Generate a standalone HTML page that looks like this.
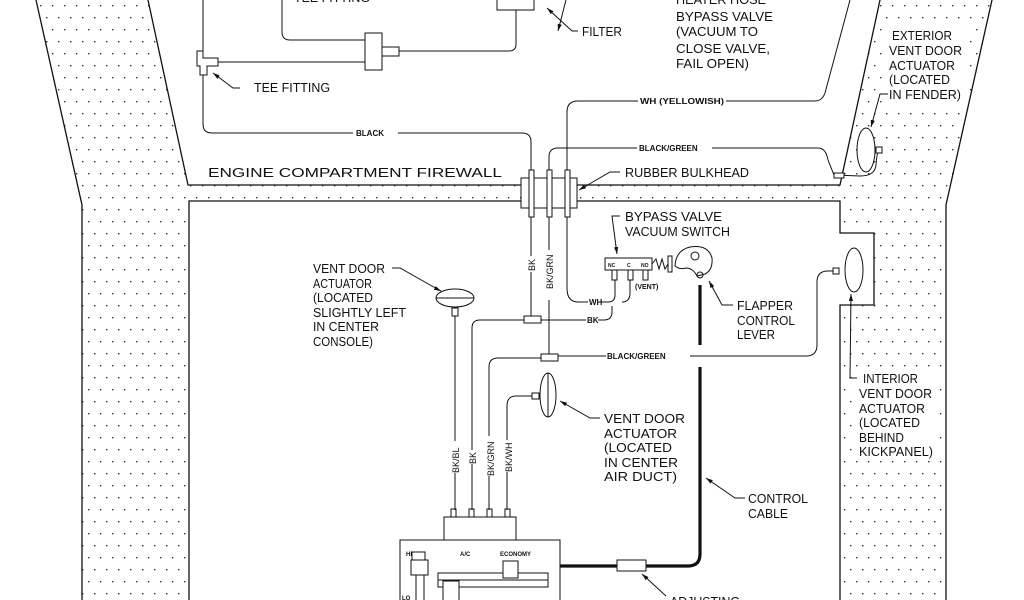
<!DOCTYPE html>
<html><head><meta charset="utf-8"><style>
html,body{margin:0;padding:0;background:#fff;width:1024px;height:600px;overflow:hidden}
svg{display:block}
text{font-family:"Liberation Sans",sans-serif;fill:#111}
.l{font-size:13px}
.s{font-size:8px;font-weight:bold}
</style></head><body>
<svg width="1024" height="600" viewBox="0 0 1024 600" xmlns="http://www.w3.org/2000/svg">
<defs>
<pattern id="dots" width="24" height="24" patternUnits="userSpaceOnUse">
<rect x="4" y="5" width="1.4" height="1.4" fill="#333"/><rect x="16" y="5" width="1.4" height="1.4" fill="#333"/>
<rect x="10" y="17" width="1.4" height="1.4" fill="#333"/><rect x="22" y="17" width="1.4" height="1.4" fill="#333"/>
</pattern>
<marker id="ar" viewBox="0 0 10 10" refX="10" refY="5" markerWidth="7" markerHeight="7" orient="auto"><path d="M0,2 L10,5 L0,8 z" fill="#111"/></marker>
</defs>
<rect width="1024" height="600" fill="#fff"/>
<path d="M36,0 L82,205 L82,600 L189,600 L189,201 L840,201 L840,233 L874,233 L874,305 L840,305 L840,600 L946,600 L946,205 L992,0 L880,0 L840,185 L188,185 L148,0 Z" fill="url(#dots)"/>
<rect x="884" y="26" width="82" height="78" fill="#fff"/>
<rect x="855" y="368" width="82" height="92" fill="#fff"/>
<g fill="none" stroke="#111" stroke-width="1.3">
<path d="M36,0 L82,205 L82,600"/>
<path d="M148,0 L188,185 L521,185 M577,185 L840,185 L880,0"/>
<path d="M189,600 L189,201 L521,201 M577,201 L840,201 L840,233 L874,233 L874,305 L840,305 L840,600"/>
<path d="M992,0 L946,205 L946,600"/>
</g>
<g fill="none" stroke="#111" stroke-width="1">
<path d="M203,0 L203,52 M203,75 L203,124 Q203,133 212,133 L353,133 M398,133 L522,133 Q531,133 531,142 L531,178"/>
<path d="M218,62 L365,62"/>
<path d="M282,0 L282,32 Q282,40 290,40 L365,40"/>
<path d="M399,51 L509,51 Q516,51 516,44 L516,10"/>
<rect x="365" y="33" width="17" height="37" fill="#fff"/>
<rect x="382" y="47" width="17" height="9" fill="#fff"/>
<path d="M197,51 L203,51 L203,58 L218,58 L218,66 L207,66 L207,75 L200,75 L200,66 L197,66 Z" fill="#fff"/>
<rect x="497" y="-2" width="37" height="12" fill="#fff"/>
<path d="M240,88 L233,88 L213,73" marker-end="url(#ar)"/>
<path d="M566,0 L558,31" marker-end="url(#ar)"/>
<path d="M578,31 L572,31 L547,8" marker-end="url(#ar)"/>
<path d="M567,170 L567,112 Q567,101 578,101 L638,101 M726,101 L815,101 Q822,101 825,93 L850,0"/>
<path d="M549,170 L549,157 Q549,148 558,148 L637,148 M712,148 L818,148 Q826,148 828,160 L834,175 L860,176 Q875,176 876,165 Q877,150 880,150"/>
<ellipse cx="866" cy="150" rx="9" ry="22" fill="#fff"/>
<rect x="876" y="147" width="6" height="6" fill="#fff"/>
<rect x="834" y="173" width="10" height="5" fill="#fff"/>
<path d="M888,94 L880,94 L871,127" marker-end="url(#ar)"/>
<rect x="521" y="178" width="56" height="30" fill="#fff"/>
<rect x="529" y="170" width="5" height="47" fill="#fff"/>
<rect x="547" y="170" width="5" height="47" fill="#fff"/>
<rect x="565" y="170" width="5" height="47" fill="#fff"/>
<path d="M620,172 L610,172 L579,190" marker-end="url(#ar)"/>
<path d="M531,217 L531,316 M549,217 L549,250 M549,262 L549,287 M549,300 L549,352 M567,217 L567,288 Q567,302 578,302 L588,302 M598,302 L608,302 Q615,302 615,295 L615,280 M630,280 L630,293 Q630,302 622,302"/>
<path d="M541,320 L586,320 M598,320 L604,320 Q612,320 612,312 L612,306"/>
<rect x="524" y="316" width="17" height="7" fill="#fff"/>
<path d="M524,320 L480,320 Q472,320 472,328 L472,510"/>
<rect x="541" y="354" width="17" height="7" fill="#fff"/>
<path d="M549,344 L549,354"/>
<path d="M558,356 L606,356 M690,356 L806,356 Q817,356 817,345 L817,282 Q817,271 828,271 L833,271"/>
<path d="M541,358 L498,358 Q489,358 489,367 L489,510"/>
<rect x="833" y="268" width="6" height="6" fill="#fff"/>
<ellipse cx="854" cy="270" rx="9" ry="22" fill="#fff"/>
<path d="M857,378 L850,378 L851,294" marker-end="url(#ar)"/>
<rect x="605" y="258" width="47" height="12" fill="#fff"/>
<rect x="612" y="270" width="5" height="10"/><rect x="628" y="270" width="5" height="10"/><rect x="643" y="270" width="5" height="10"/>
<path d="M652,264 L656,259 L659,269 L662,259 L665,269 L668,264"/>
<rect x="668" y="256" width="4" height="16" fill="#fff"/>
<path d="M675,266 Q676,250 690,247 Q708,244 712,258 Q713,270 705,274 L697,276 Q693,268 686,268 Q680,270 675,266 Z"/>
<circle cx="695" cy="256" r="4"/>
<circle cx="700" cy="275" r="3"/>
<path d="M620,216 L612,216 L617,254" marker-end="url(#ar)"/>
<path d="M733,305 L722,305 L709,281" marker-end="url(#ar)"/>
<ellipse cx="455" cy="298" rx="19" ry="9" fill="#fff"/>
<path d="M436,298 L474,298"/>
<rect x="452" y="308" width="6" height="8"/>
<path d="M455,316 L455,510 M392,268 L400,268 L439,290"/>
<path d="M439,290 L441,291" marker-end="url(#ar)"/>
<path d="M507,510 L507,406 Q507,396 516,396 L532,396"/>
<rect x="532" y="393" width="7" height="6" fill="#fff"/>
<ellipse cx="548" cy="395" rx="8" ry="22" fill="#fff"/>
<path d="M548,373 L548,417"/>
<path d="M600,418 L590,418 L560,401" marker-end="url(#ar)"/>
<rect x="451" y="509" width="5" height="8"/><rect x="469" y="509" width="5" height="8"/><rect x="487" y="509" width="5" height="8"/><rect x="505" y="509" width="5" height="8"/>
<rect x="444" y="517" width="72" height="23" fill="#fff"/>
<rect x="400" y="540" width="160" height="70" fill="#fff"/>
<rect x="412" y="552" width="13" height="8"/>
<rect x="411" y="560" width="17" height="15" fill="#fff"/>
<path d="M416,575 L416,600 M424,575 L424,600"/>
<rect x="438" y="573" width="110" height="7" fill="#fff"/>
<rect x="438" y="580" width="110" height="7" fill="#fff"/>
<rect x="503" y="561" width="15" height="17" fill="#fff"/>
<rect x="443" y="581" width="16" height="20" fill="#fff"/>
<path d="M745,498 L735,498 L706,478" marker-end="url(#ar)"/>
<path d="M666,596 L642,574" marker-end="url(#ar)"/>
</g>
<g fill="none" stroke="#111" stroke-width="3.2">
<path d="M700,285 L700,345 M700,367 L700,554 Q700,566 688,566 L646,566 M617,566 L560,566"/>
</g>
<rect x="617" y="560" width="29" height="11" fill="#fff" stroke="#111" stroke-width="1"/>
<g class="l">
<text x="294" y="2" textLength="76" lengthAdjust="spacingAndGlyphs">TEE FITTING</text>
<text x="254" y="92" textLength="76" lengthAdjust="spacingAndGlyphs">TEE FITTING</text>
<text x="582" y="36" textLength="40" lengthAdjust="spacingAndGlyphs">FILTER</text>
<text x="676" y="4" textLength="90" lengthAdjust="spacingAndGlyphs">HEATER HOSE</text>
<text x="676" y="21" textLength="97" lengthAdjust="spacingAndGlyphs">BYPASS VALVE</text>
<text x="676" y="36" textLength="82" lengthAdjust="spacingAndGlyphs">(VACUUM TO</text>
<text x="676" y="53" textLength="94" lengthAdjust="spacingAndGlyphs">CLOSE VALVE,</text>
<text x="676" y="68" textLength="73" lengthAdjust="spacingAndGlyphs">FAIL OPEN)</text>
<text x="892" y="40" textLength="60" lengthAdjust="spacingAndGlyphs">EXTERIOR</text>
<text x="889" y="55" textLength="73" lengthAdjust="spacingAndGlyphs">VENT DOOR</text>
<text x="889" y="70" textLength="66" lengthAdjust="spacingAndGlyphs">ACTUATOR</text>
<text x="889" y="84" textLength="61" lengthAdjust="spacingAndGlyphs">(LOCATED</text>
<text x="889" y="99" textLength="72" lengthAdjust="spacingAndGlyphs">IN FENDER)</text>
<text x="208" y="177" textLength="294" lengthAdjust="spacingAndGlyphs">ENGINE COMPARTMENT FIREWALL</text>
<text x="625" y="177" textLength="124" lengthAdjust="spacingAndGlyphs">RUBBER BULKHEAD</text>
<text x="625" y="221" textLength="97" lengthAdjust="spacingAndGlyphs">BYPASS VALVE</text>
<text x="625" y="236" textLength="105" lengthAdjust="spacingAndGlyphs">VACUUM SWITCH</text>
<text x="313" y="273" textLength="72" lengthAdjust="spacingAndGlyphs">VENT DOOR</text>
<text x="313" y="288" textLength="59" lengthAdjust="spacingAndGlyphs">ACTUATOR</text>
<text x="313" y="302" textLength="60" lengthAdjust="spacingAndGlyphs">(LOCATED</text>
<text x="313" y="317" textLength="93" lengthAdjust="spacingAndGlyphs">SLIGHTLY LEFT</text>
<text x="313" y="331" textLength="66" lengthAdjust="spacingAndGlyphs">IN CENTER</text>
<text x="313" y="346" textLength="60" lengthAdjust="spacingAndGlyphs">CONSOLE)</text>
<text x="737" y="310" textLength="56" lengthAdjust="spacingAndGlyphs">FLAPPER</text>
<text x="737" y="325" textLength="58" lengthAdjust="spacingAndGlyphs">CONTROL</text>
<text x="737" y="339" textLength="38" lengthAdjust="spacingAndGlyphs">LEVER</text>
<text x="863" y="383" textLength="55" lengthAdjust="spacingAndGlyphs">INTERIOR</text>
<text x="859" y="398" textLength="73" lengthAdjust="spacingAndGlyphs">VENT DOOR</text>
<text x="859" y="413" textLength="66" lengthAdjust="spacingAndGlyphs">ACTUATOR</text>
<text x="859" y="427" textLength="61" lengthAdjust="spacingAndGlyphs">(LOCATED</text>
<text x="859" y="442" textLength="45" lengthAdjust="spacingAndGlyphs">BEHIND</text>
<text x="859" y="456" textLength="74" lengthAdjust="spacingAndGlyphs">KICKPANEL)</text>
<text x="604" y="423" textLength="81" lengthAdjust="spacingAndGlyphs">VENT DOOR</text>
<text x="604" y="438" textLength="73" lengthAdjust="spacingAndGlyphs">ACTUATOR</text>
<text x="604" y="452" textLength="68" lengthAdjust="spacingAndGlyphs">(LOCATED</text>
<text x="604" y="467" textLength="74" lengthAdjust="spacingAndGlyphs">IN CENTER</text>
<text x="604" y="481" textLength="73" lengthAdjust="spacingAndGlyphs">AIR DUCT)</text>
<text x="748" y="503" textLength="60" lengthAdjust="spacingAndGlyphs">CONTROL</text>
<text x="748" y="518" textLength="40" lengthAdjust="spacingAndGlyphs">CABLE</text>
<text x="670" y="606" textLength="70" lengthAdjust="spacingAndGlyphs">ADJUSTING</text>
</g>
<g class="s">
<text x="356" y="136">BLACK</text>
<text x="640" y="104" textLength="84" lengthAdjust="spacingAndGlyphs">WH (YELLOWISH)</text>
<text x="639" y="151">BLACK/GREEN</text>
<text x="589" y="305">WH</text>
<text x="587" y="323">BK</text>
<text x="607" y="359">BLACK/GREEN</text>
<text x="608" y="267" style="font-size:5px">NC</text><text x="627" y="267" style="font-size:5px">C</text><text x="641" y="267" style="font-size:5px">NO</text>
<text x="635" y="289" style="font-size:7px">(VENT)</text>
<text x="406" y="556" style="font-size:6px">HI</text>
<text x="460" y="556" style="font-size:6px">A/C</text>
<text x="500" y="556" style="font-size:6px">ECONOMY</text>
<text x="402" y="600" style="font-size:6px">LO</text>
</g>
<g class="s" style="font-size:9px;font-weight:normal">
<rect x="526" y="256" width="10" height="16" fill="#fff"/><rect x="544" y="250" width="10" height="40" fill="#fff"/>
<text transform="translate(535,271) rotate(-90)">BK</text>
<text transform="translate(553,289) rotate(-90)">BK/GRN</text>
<rect x="450" y="441" width="10" height="32" fill="#fff"/><rect x="467" y="450" width="10" height="14" fill="#fff"/><rect x="485" y="436" width="10" height="40" fill="#fff"/><rect x="503" y="440" width="10" height="32" fill="#fff"/>
<text transform="translate(459,473) rotate(-90)">BK/BL</text>
<text transform="translate(476,464) rotate(-90)">BK</text>
<text transform="translate(494,476) rotate(-90)">BK/GRN</text>
<text transform="translate(512,472) rotate(-90)">BK/WH</text>
</g>
</svg>
</body></html>
